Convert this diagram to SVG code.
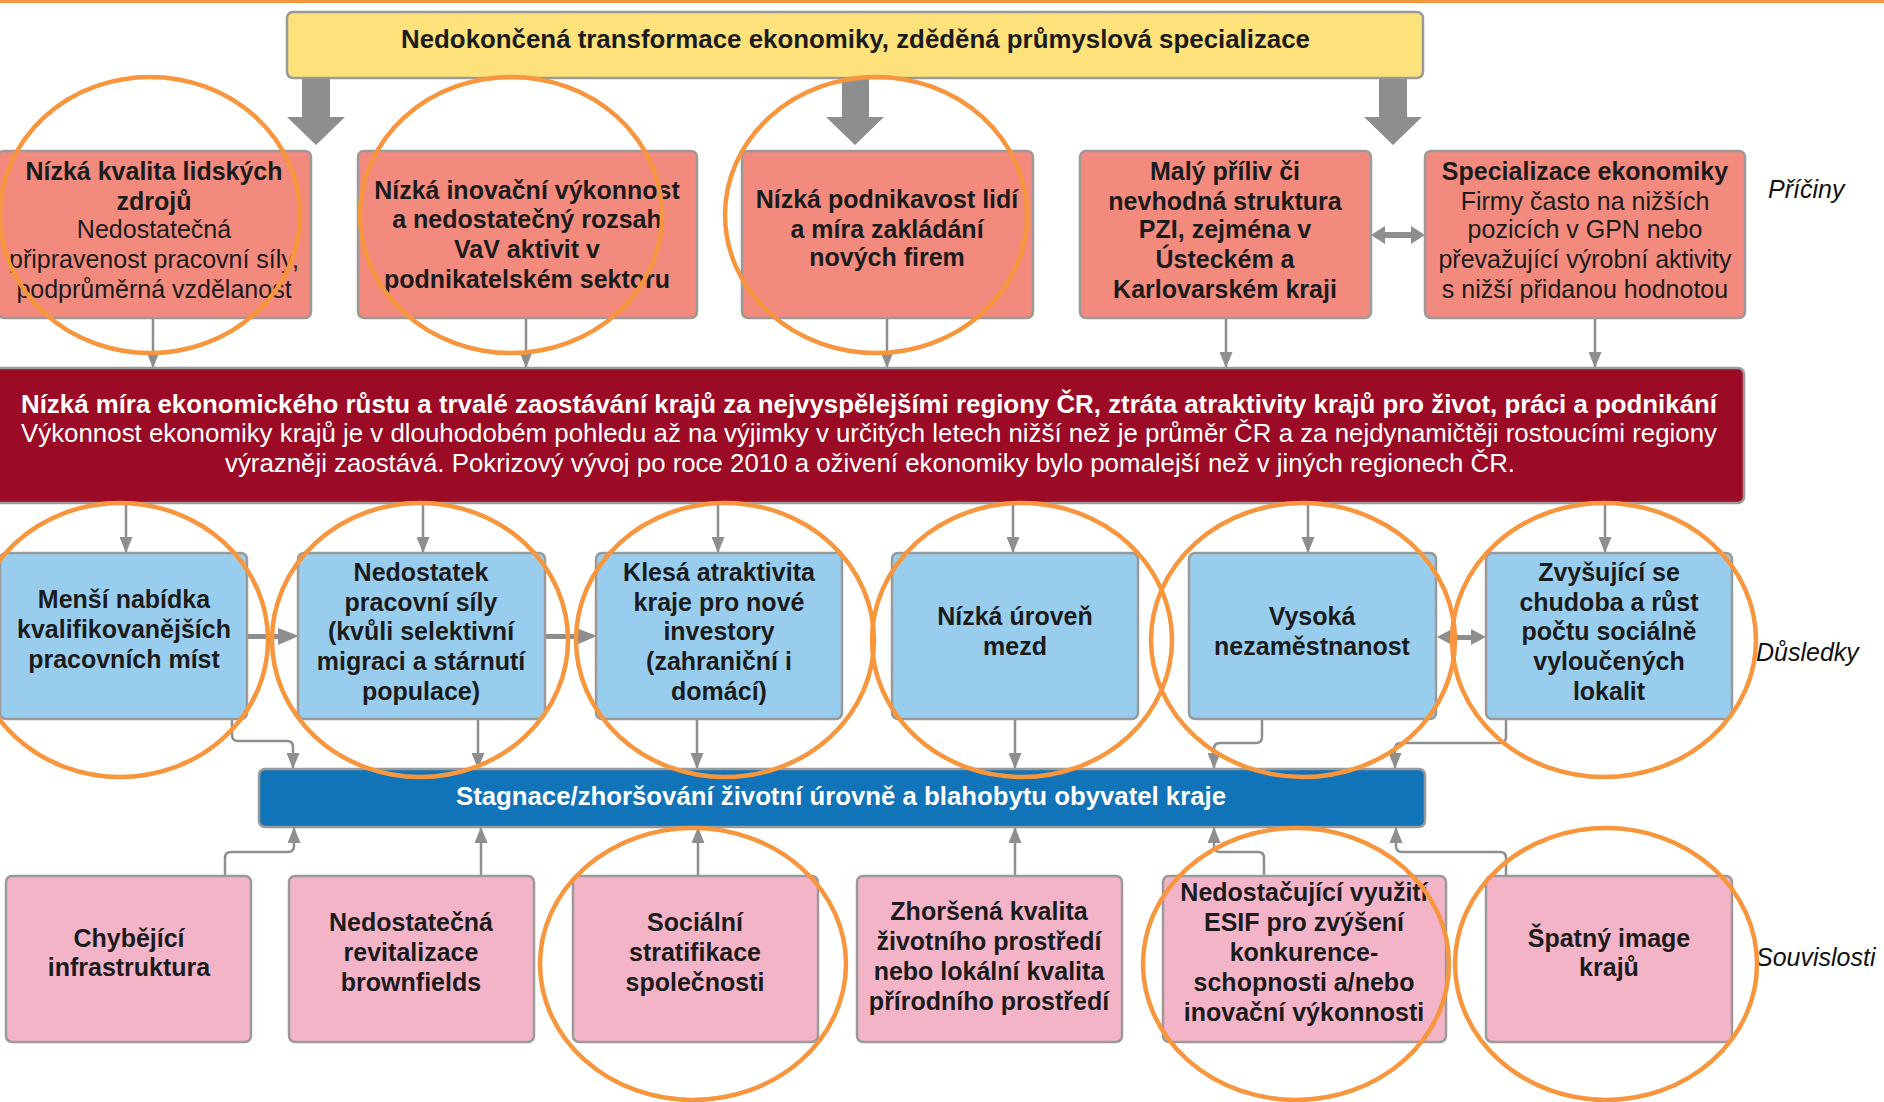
<svg xmlns="http://www.w3.org/2000/svg" width="1884" height="1102" viewBox="0 0 1884 1102">
<defs>
<marker id="ah" markerUnits="userSpaceOnUse" markerWidth="16" markerHeight="13" refX="16" refY="6.5" orient="auto" viewBox="0 0 16 13"><path d="M0,0 L16,6.5 L0,13 z" fill="#8e8e8e"/></marker>
</defs>
<style>
.t{font-family:"Liberation Sans",Arial,sans-serif;font-size:25px;fill:#1b1b1b;text-anchor:middle}
.s{text-anchor:start}
.b{font-weight:bold}
.w{fill:#ffffff}
.box{stroke:#9a9a9a;stroke-width:2.5}
.cause{fill:#f38a7e}
.eff{fill:#98cdee}
.ctx{fill:#f4b4c8}
.con{fill:none;stroke:#8e8e8e;stroke-width:2.5;marker-end:url(#ah)}
.big{fill:#8e8e8e}
.ring{fill:none;stroke:#f7963d;stroke-width:4.5}
.side{font-family:"Liberation Sans",Arial,sans-serif;font-size:25px;font-style:italic;fill:#111111}
</style>
<rect x="0" y="0" width="1884" height="1102" fill="#ffffff"/>
<rect x="0" y="0" width="1884" height="3" fill="#f7963d"/>

<g id="connectors">
  <polygon class="big" points="302,78 330,78 330,117 345,117 316,145 287,117 302,117"/>
  <polygon class="big" points="842,78 869,78 869,117 884,117 855,145 826,117 842,117"/>
  <polygon class="big" points="1379,78 1407,78 1407,117 1422,117 1393,145 1364,117 1379,117"/>
  <polygon class="big" points="1371,235 1385,226 1385,232 1411,232 1411,226 1425,235 1411,244 1411,238 1385,238 1385,244"/>
  <path class="con" d="M153,318 V368"/>
  <path class="con" d="M526,318 V368"/>
  <path class="con" d="M887,318 V368"/>
  <path class="con" d="M1226,318 V368"/>
  <path class="con" d="M1595,318 V368"/>
  <path class="con" d="M126,503 V553"/>
  <path class="con" d="M423,503 V553"/>
  <path class="con" d="M718,503 V553"/>
  <path class="con" d="M1013,503 V553"/>
  <path class="con" d="M1308,503 V553"/>
  <path class="con" d="M1605,503 V553"/>
  <polygon class="big" points="248,634 278,634 278,628 299,636 278,645 278,639 248,639"/>
  <polygon class="big" points="545,634 576,634 576,628 597,636 576,645 576,639 545,639"/>
  <polygon class="big" points="1437,637 1452,629 1452,635 1471,635 1471,629 1486,637 1471,645 1471,640 1452,640 1452,645"/>
  <path class="con" d="M232,719 V735 Q232,741 238,741 H287 Q293,741 293,747 V769"/>
  <path class="con" d="M478,719 V769"/>
  <path class="con" d="M697,719 V769"/>
  <path class="con" d="M1015,719 V769"/>
  <path class="con" d="M1262,719 V737 Q1262,743 1256,743 H1220 Q1214,743 1214,749 V769"/>
  <path class="con" d="M1506,719 V737 Q1506,743 1500,743 H1401 Q1395,743 1395,749 V769"/>
  <path class="con" d="M225,876 V858 Q225,852 231,852 H288 Q294,852 294,846 V827"/>
  <path class="con" d="M481,876 V827"/>
  <path class="con" d="M698,876 V827"/>
  <path class="con" d="M1015,876 V827"/>
  <path class="con" d="M1264,876 V858 Q1264,852 1258,852 H1220 Q1214,852 1214,846 V827"/>
  <path class="con" d="M1506,876 V858 Q1506,852 1500,852 H1402 Q1396,852 1396,846 V827"/>
</g>

<g id="root">
  <rect class="box" x="287" y="12" width="1136" height="66" rx="6" fill="#fde17a"/>
  <text class="t b s" x="401" y="48" textLength="909" lengthAdjust="spacingAndGlyphs">Nedokončená transformace ekonomiky, zděděná průmyslová specializace</text>
</g>

<g id="cause1">
  <rect class="box cause" x="-2" y="151" width="313" height="167" rx="6"/>
  <text class="t b" x="154" y="180">Nízká kvalita lidských</text>
  <text class="t b" x="154" y="210">zdrojů</text>
  <text class="t" x="154" y="238">Nedostatečná</text>
  <text class="t" x="154" y="268">připravenost pracovní síly,</text>
  <text class="t" x="154" y="298">podprůměrná vzdělanost</text>
</g>
<g id="cause2">
  <rect class="box cause" x="358" y="151" width="339" height="167" rx="6"/>
  <text class="t b" x="527" y="199">Nízká inovační výkonnost</text>
  <text class="t b" x="527" y="228">a nedostatečný rozsah</text>
  <text class="t b" x="527" y="258">VaV aktivit v</text>
  <text class="t b" x="527" y="288">podnikatelském sektoru</text>
</g>
<g id="cause3">
  <rect class="box cause" x="742" y="151" width="291" height="167" rx="6"/>
  <text class="t b" x="887" y="208">Nízká podnikavost lidí</text>
  <text class="t b" x="887" y="238">a míra zakládání</text>
  <text class="t b" x="887" y="266">nových firem</text>
</g>
<g id="cause4">
  <rect class="box cause" x="1080" y="151" width="291" height="167" rx="6"/>
  <text class="t b" x="1225" y="180">Malý příliv či</text>
  <text class="t b" x="1225" y="210">nevhodná struktura</text>
  <text class="t b" x="1225" y="238">PZI, zejména v</text>
  <text class="t b" x="1225" y="268">Ústeckém a</text>
  <text class="t b" x="1225" y="298">Karlovarském kraji</text>
</g>
<g id="cause5">
  <rect class="box cause" x="1425" y="151" width="320" height="167" rx="6"/>
  <text class="t b" x="1585" y="180">Specializace ekonomiky</text>
  <text class="t" x="1585" y="210">Firmy často na nižších</text>
  <text class="t" x="1585" y="238">pozicích v GPN nebo</text>
  <text class="t" x="1585" y="268">převažující výrobní aktivity</text>
  <text class="t" x="1585" y="298">s nižší přidanou hodnotou</text>
</g>

<g id="core">
  <rect class="box" x="-6" y="368" width="1750" height="135" rx="6" fill="#9b0b25"/>
  <text class="t b w s" x="21" y="413" font-size="22" textLength="1696" lengthAdjust="spacingAndGlyphs">Nízká míra ekonomického růstu a trvalé zaostávání krajů za nejvyspělejšími regiony ČR, ztráta atraktivity krajů pro život, práci a podnikání</text>
  <text class="t w s" x="21" y="442" font-size="22" textLength="1696" lengthAdjust="spacingAndGlyphs">Výkonnost ekonomiky krajů je v dlouhodobém pohledu až na výjimky v určitých letech nižší než je průměr ČR a za nejdynamičtěji rostoucími regiony</text>
  <text class="t w s" x="225" y="472" font-size="22" textLength="1290" lengthAdjust="spacingAndGlyphs">výrazněji zaostává. Pokrizový vývoj po roce 2010 a oživení ekonomiky bylo pomalejší než v jiných regionech ČR.</text>
</g>

<g id="effect1">
  <rect class="box eff" x="0" y="553" width="247" height="166" rx="6"/>
  <text class="t b" x="124" y="608">Menší nabídka</text>
  <text class="t b" x="124" y="638">kvalifikovanějších</text>
  <text class="t b" x="124" y="668">pracovních míst</text>
</g>
<g id="effect2">
  <rect class="box eff" x="298" y="553" width="247" height="166" rx="6"/>
  <text class="t b" x="421" y="581">Nedostatek</text>
  <text class="t b" x="421" y="611">pracovní síly</text>
  <text class="t b" x="421" y="640">(kvůli selektivní</text>
  <text class="t b" x="421" y="670">migraci a stárnutí</text>
  <text class="t b" x="421" y="700">populace)</text>
</g>
<g id="effect3">
  <rect class="box eff" x="596" y="553" width="246" height="166" rx="6"/>
  <text class="t b" x="719" y="581">Klesá atraktivita</text>
  <text class="t b" x="719" y="611">kraje pro nové</text>
  <text class="t b" x="719" y="640">investory</text>
  <text class="t b" x="719" y="670">(zahraniční i</text>
  <text class="t b" x="719" y="700">domácí)</text>
</g>
<g id="effect4">
  <rect class="box eff" x="892" y="553" width="246" height="166" rx="6"/>
  <text class="t b" x="1015" y="625">Nízká úroveň</text>
  <text class="t b" x="1015" y="655">mezd</text>
</g>
<g id="effect5">
  <rect class="box eff" x="1189" y="553" width="247" height="166" rx="6"/>
  <text class="t b" x="1312" y="625">Vysoká</text>
  <text class="t b" x="1312" y="655">nezaměstnanost</text>
</g>
<g id="effect6">
  <rect class="box eff" x="1486" y="553" width="246" height="166" rx="6"/>
  <text class="t b" x="1609" y="581">Zvyšující se</text>
  <text class="t b" x="1609" y="611">chudoba a růst</text>
  <text class="t b" x="1609" y="640">počtu sociálně</text>
  <text class="t b" x="1609" y="670">vyloučených</text>
  <text class="t b" x="1609" y="700">lokalit</text>
</g>

<g id="outcome">
  <rect class="box" x="259" y="769" width="1166" height="58" rx="6" fill="#1173b8"/>
  <text class="t b w s" x="456" y="805" font-size="23" textLength="770" lengthAdjust="spacingAndGlyphs">Stagnace/zhoršování životní úrovně a blahobytu obyvatel kraje</text>
</g>

<g id="context1">
  <rect class="box ctx" x="6" y="876" width="245" height="166" rx="6"/>
  <text class="t b" x="129" y="947">Chybějící</text>
  <text class="t b" x="129" y="976">infrastruktura</text>
</g>
<g id="context2">
  <rect class="box ctx" x="289" y="876" width="245" height="166" rx="6"/>
  <text class="t b" x="411" y="931">Nedostatečná</text>
  <text class="t b" x="411" y="961">revitalizace</text>
  <text class="t b" x="411" y="991">brownfields</text>
</g>
<g id="context3">
  <rect class="box ctx" x="573" y="876" width="245" height="166" rx="6"/>
  <text class="t b" x="695" y="931">Sociální</text>
  <text class="t b" x="695" y="961">stratifikace</text>
  <text class="t b" x="695" y="991">společnosti</text>
</g>
<g id="context4">
  <rect class="box ctx" x="857" y="876" width="265" height="166" rx="6"/>
  <text class="t b" x="989" y="920">Zhoršená kvalita</text>
  <text class="t b" x="989" y="950">životního prostředí</text>
  <text class="t b" x="989" y="980">nebo lokální kvalita</text>
  <text class="t b" x="989" y="1010">přírodního prostředí</text>
</g>
<g id="context5">
  <rect class="box ctx" x="1163" y="876" width="283" height="166" rx="6"/>
  <text class="t b" x="1304" y="901">Nedostačující využití</text>
  <text class="t b" x="1304" y="931">ESIF pro zvýšení</text>
  <text class="t b" x="1304" y="961">konkurence-</text>
  <text class="t b" x="1304" y="991">schopnosti a/nebo</text>
  <text class="t b" x="1304" y="1021">inovační výkonnosti</text>
</g>
<g id="context6">
  <rect class="box ctx" x="1486" y="876" width="246" height="166" rx="6"/>
  <text class="t b" x="1609" y="947">Špatný image</text>
  <text class="t b" x="1609" y="976">krajů</text>
</g>

<g id="labels">
  <text class="side" x="1768" y="198">Příčiny</text>
  <text class="side" x="1756" y="661">Důsledky</text>
  <text class="side" x="1756" y="966">Souvislosti</text>
</g>

<g id="highlights">
  <ellipse class="ring" cx="150" cy="215" rx="150" ry="138"/>
  <ellipse class="ring" cx="511" cy="215" rx="151" ry="138"/>
  <ellipse class="ring" cx="876" cy="215" rx="151" ry="138"/>
  <ellipse class="ring" cx="120" cy="640" rx="148" ry="137"/>
  <ellipse class="ring" cx="420" cy="640" rx="148" ry="137"/>
  <ellipse class="ring" cx="725" cy="640" rx="149" ry="137"/>
  <ellipse class="ring" cx="1022" cy="640" rx="150" ry="137"/>
  <ellipse class="ring" cx="1303" cy="640" rx="152" ry="137"/>
  <ellipse class="ring" cx="1604" cy="640" rx="152" ry="137"/>
  <ellipse class="ring" cx="693" cy="964" rx="153" ry="136"/>
  <ellipse class="ring" cx="1296" cy="964" rx="153" ry="136"/>
  <ellipse class="ring" cx="1606" cy="964" rx="151" ry="136"/>
</g>
</svg>
